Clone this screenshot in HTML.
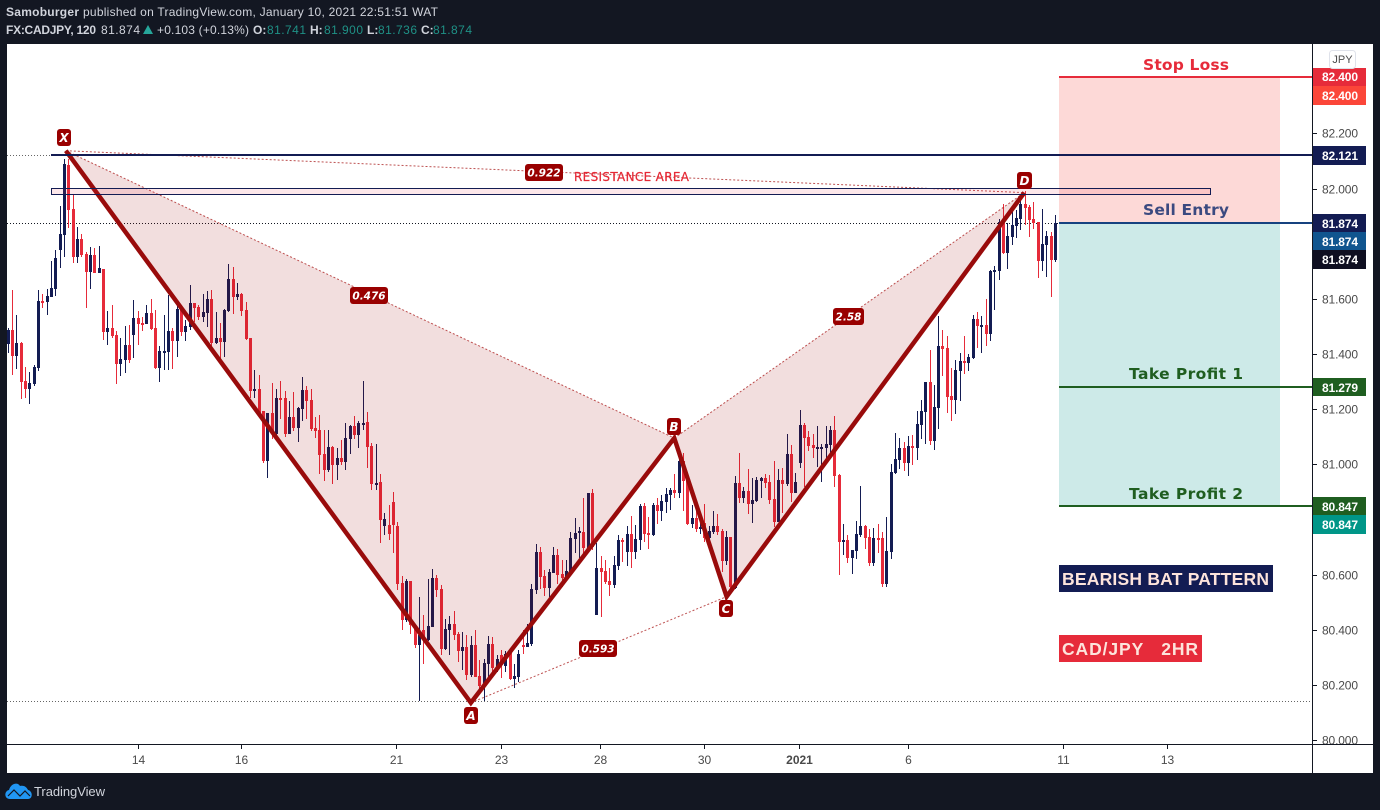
<!DOCTYPE html>
<html lang="en">
<head>
<meta charset="utf-8">
<title>CAD/JPY 2HR Bearish Bat Pattern</title>
<style>
html,body{margin:0;padding:0;background:#131722;width:1380px;height:810px;overflow:hidden}
svg{display:block}
text{font-family:"Liberation Sans",sans-serif}
.tag{fill:#fff;font-size:12px;font-weight:bold}
.ptn{fill:#fff;font-family:"DejaVu Sans",sans-serif;font-weight:bold;font-style:italic;text-anchor:middle}
.pos{font-family:"DejaVu Sans",sans-serif;font-weight:bold;font-size:15.5px;text-anchor:middle}
.hd{fill:#d1d4dc;font-size:12px}
.hb{fill:#d1d4dc;font-size:12px;font-weight:bold}
.ht{fill:#1f9186;font-size:12px}
</style>
</head>
<body>
<svg id="chart" xmlns="http://www.w3.org/2000/svg" width="1380" height="810" viewBox="0 0 1380 810">
  <rect x="0" y="0" width="1380" height="810" fill="#131722"/>
  <rect x="7" y="44" width="1366" height="729" fill="#ffffff"/>

  <g>
    <text class="hb" x="6" y="16" textLength="73" lengthAdjust="spacing">Samoburger</text>
    <text class="hd" x="83" y="16" textLength="355" lengthAdjust="spacing">published on TradingView.com, January 10, 2021 22:51:51 WAT</text>
    <text class="hb" x="6" y="34" textLength="90" lengthAdjust="spacing">FX:CADJPY, 120</text>
    <text class="hd" x="101" y="34" textLength="39">81.874</text>
    <polygon points="143,34 153,34 148,25" fill="#26a69a"/>
    <text class="hd" x="157" y="34" textLength="92">+0.103 (+0.13%)</text>
    <text class="hb" x="253" y="34">O:</text>
    <text class="ht" x="267" y="34" textLength="39">81.741</text>
    <text class="hb" x="310" y="34">H:</text>
    <text class="ht" x="324" y="34" textLength="39">81.900</text>
    <text class="hb" x="367" y="34">L:</text>
    <text class="ht" x="378" y="34" textLength="39">81.736</text>
    <text class="hb" x="421" y="34">C:</text>
    <text class="ht" x="433" y="34" textLength="39">81.874</text>
  </g>

  <g id="guides"></g>
  <g>
    <rect id="stopBox" x="1059" width="221" fill="#fdd9d7"/>
    <rect id="profitBox" x="1059" width="221" fill="#cdeae8"/>
  </g>
  <g id="candles" shape-rendering="crispEdges"></g>
  <g id="pattern"></g>
  <rect x="51.5" y="188.5" width="1159" height="6" fill="rgba(240,60,80,0.12)" stroke="#131c53" stroke-width="1"/>
  <text x="574" y="181" font-size="12" fill="#e52935" stroke="#e52935" stroke-width="0.25" textLength="115" lengthAdjust="spacing" style="font-family:'DejaVu Sans',sans-serif">RESISTANCE AREA</text>
  <g id="levels"></g>

  <g>
    <rect x="57" y="129" width="14" height="17" rx="3" fill="#990000"/>
    <text class="ptn" x="64" y="142" font-size="12">X</text>
    <rect x="464" y="707" width="14" height="17" rx="3" fill="#990000"/>
    <text class="ptn" x="471" y="720" font-size="12">A</text>
    <rect x="667" y="418" width="14" height="17" rx="3" fill="#990000"/>
    <text class="ptn" x="674" y="431" font-size="12">B</text>
    <rect x="719" y="600" width="14" height="17" rx="3" fill="#990000"/>
    <text class="ptn" x="726" y="613" font-size="12">C</text>
    <rect x="1017" y="172" width="15" height="17" rx="3" fill="#990000"/>
    <text class="ptn" x="1024.5" y="185" font-size="12">D</text>
    <rect x="525" y="164" width="38" height="17" rx="3" fill="#990000"/>
    <text class="ptn" x="544" y="176.5" font-size="10.5">0.922</text>
    <rect x="350" y="287" width="38" height="17" rx="3" fill="#990000"/>
    <text class="ptn" x="369" y="299.5" font-size="10.5">0.476</text>
    <rect x="833" y="308" width="31" height="17" rx="3" fill="#990000"/>
    <text class="ptn" x="848.5" y="320.5" font-size="10.5">2.58</text>
    <rect x="579" y="640" width="38" height="17" rx="3" fill="#990000"/>
    <text class="ptn" x="598" y="652.5" font-size="10.5">0.593</text>
  </g>

  <g>
    <text class="pos" x="1186" y="70" fill="#e62b3a" textLength="86" lengthAdjust="spacing">Stop Loss</text>
    <text class="pos" x="1186" y="215" fill="#3b4a80" textLength="86" lengthAdjust="spacing">Sell Entry</text>
    <text class="pos" x="1186" y="379" fill="#1f5e20" textLength="114" lengthAdjust="spacing">Take Profit 1</text>
    <text class="pos" x="1186" y="499" fill="#1f5e20" textLength="114" lengthAdjust="spacing">Take Profit 2</text>
  </g>

  <rect x="1059" y="565" width="214" height="27" fill="#131c53"/>
  <text x="1062" y="585" font-size="17.5" font-weight="bold" fill="#fde4dc" textLength="207" lengthAdjust="spacing">BEARISH BAT PATTERN</text>
  <rect x="1059" y="635" width="143" height="27" fill="#e62b3a"/>
  <text x="1062" y="655" font-size="17.5" font-weight="bold" fill="#fde4dc" xml:space="preserve" style="white-space:pre" textLength="136" lengthAdjust="spacing">CAD/JPY   2HR</text>

  <g id="priceAxis"></g>
  <g id="timeAxis"></g>

  <g>
    <rect x="1313" y="68" width="53" height="18" fill="#e62b3a"/>
    <text class="tag" x="1322" y="81" textLength="36">82.400</text>
    <rect x="1313" y="86" width="53" height="19" fill="#fb4639"/>
    <text class="tag" x="1322" y="100" textLength="36">82.400</text>
    <rect x="1313" y="146" width="53" height="19" fill="#131c53"/>
    <text class="tag" x="1322" y="160" textLength="36">82.121</text>
    <rect x="1313" y="214" width="53" height="18" fill="#131c53"/>
    <text class="tag" x="1322" y="228" textLength="36">81.874</text>
    <rect x="1313" y="232" width="53" height="18" fill="#10558f"/>
    <text class="tag" x="1322" y="246" textLength="36">81.874</text>
    <rect x="1313" y="250" width="53" height="19" fill="#0f0f21"/>
    <text class="tag" x="1322" y="264" textLength="36">81.874</text>
    <rect x="1313" y="378" width="53" height="18" fill="#1f5e20"/>
    <text class="tag" x="1322" y="392" textLength="36">81.279</text>
    <rect x="1313" y="497" width="53" height="18" fill="#1f5e20"/>
    <text class="tag" x="1322" y="511" textLength="36">80.847</text>
    <rect x="1313" y="515" width="53" height="19" fill="#009688"/>
    <text class="tag" x="1322" y="529" textLength="36">80.847</text>
  </g>

  <rect x="1329.5" y="50.5" width="26" height="18" rx="3" fill="#ffffff" stroke="#dfe2ea"/>
  <text x="1342.5" y="63" font-size="11" fill="#4a4a4a" text-anchor="middle">JPY</text>

  <g>
    <path d="M10 799 C4 799 4 791 9 790 C11 783 18 782 20 786 C25 785 27 788 28 790 C33 791 33 799 28 799 Z" fill="#2196f3"/>
    <path d="M8 796 L14 790 L20 796 L25 791 L30 796" fill="none" stroke="#131722" stroke-width="1.2"/>
    <text x="34" y="796" font-size="13" fill="#d1d4dc" textLength="71" lengthAdjust="spacing">TradingView</text>
  </g>
</svg>

<script>
const highs = [
81.494,81.632,81.541,81.444,81.353,81.335,81.360,81.632,81.617,81.636,
81.737,81.777,81.936,82.107,82.107,81.976,81.860,81.835,81.770,81.788,
81.784,81.792,81.708,81.556,81.578,81.483,81.458,81.501,81.505,81.596,
81.556,81.534,81.578,81.599,81.559,81.429,81.541,81.614,81.494,81.578,
81.578,81.523,81.650,81.585,81.578,81.617,81.628,81.632,81.552,81.512,
81.563,81.726,81.715,81.657,81.621,81.588,81.458,81.342,81.324,81.193,
81.186,81.295,81.273,81.302,81.266,81.229,81.262,81.208,81.316,81.284,
81.273,81.171,81.179,81.124,81.124,81.066,81.059,81.088,81.150,81.142,
81.175,81.157,81.302,81.190,81.077,81.073,80.965,80.823,80.852,80.899,
80.790,80.595,80.584,80.577,80.417,80.519,80.453,80.584,80.620,80.598,
80.562,80.439,80.450,80.468,80.392,80.392,80.381,80.377,80.399,80.290,
80.294,80.377,80.373,80.308,80.326,80.323,80.315,80.276,80.326,80.399,
80.421,80.566,80.711,80.700,80.617,80.620,80.700,80.693,80.653,80.653,
80.754,80.805,80.772,80.878,80.896,80.910,80.714,80.667,80.653,80.624,
80.667,80.743,80.733,80.776,80.812,80.780,80.856,80.859,80.809,80.859,
80.878,80.888,80.914,80.914,80.965,81.023,81.041,80.943,80.852,80.834,
80.805,80.856,80.776,80.830,80.820,80.765,80.758,80.736,80.957,81.041,
80.918,80.983,80.950,80.954,80.954,80.965,80.961,81.012,80.983,80.986,
81.110,81.070,80.968,81.197,81.150,81.120,81.110,81.139,81.073,81.139,
81.139,81.175,80.965,80.783,80.743,80.689,80.794,80.921,80.780,80.765,
80.769,80.783,80.754,80.809,81.001,81.113,81.095,81.081,81.102,81.106,
81.193,81.233,81.298,81.414,81.287,81.538,81.487,81.465,81.349,81.378,
81.403,81.465,81.400,81.541,81.552,81.538,81.599,81.704,81.719,81.889,
81.944,81.875,81.922,81.922,81.962,81.991,81.940,81.951,81.879,81.926,
81.846,81.842,81.904];

const lows = [
81.404,81.324,81.346,81.236,81.240,81.218,81.284,81.338,81.567,81.541,
81.607,81.610,81.712,81.752,81.857,81.730,81.730,81.752,81.567,81.636,
81.693,81.693,81.451,81.433,81.458,81.291,81.320,81.331,81.367,81.385,
81.433,81.483,81.509,81.487,81.346,81.298,81.342,81.342,81.346,81.389,
81.465,81.447,81.487,81.516,81.523,81.516,81.498,81.422,81.436,81.378,
81.389,81.552,81.545,81.596,81.538,81.451,81.240,81.240,81.179,81.005,
80.950,81.092,81.106,81.164,81.099,81.110,81.120,81.081,81.157,81.164,
81.120,81.095,80.965,80.939,80.972,80.928,80.943,80.997,80.979,81.037,
81.092,81.059,81.124,80.986,80.907,80.907,80.714,80.743,80.725,80.678,
80.544,80.399,80.428,80.384,80.334,80.141,80.276,80.359,80.410,80.519,
80.308,80.326,80.308,80.363,80.283,80.254,80.218,80.228,80.228,80.181,
80.141,80.218,80.243,80.247,80.225,80.247,80.218,80.189,80.210,80.312,
80.337,80.341,80.529,80.548,80.522,80.519,80.606,80.566,80.555,80.580,
80.606,80.678,80.660,80.671,80.689,80.689,80.453,80.446,80.566,80.522,
80.551,80.617,80.646,80.631,80.624,80.656,80.689,80.718,80.693,80.740,
80.783,80.794,80.823,80.834,80.878,80.878,80.830,80.780,80.769,80.754,
80.747,80.718,80.718,80.747,80.743,80.609,80.635,80.544,80.548,80.859,
80.859,80.820,80.787,80.863,80.878,80.914,80.856,80.772,80.791,80.823,
80.921,80.863,80.896,80.986,80.918,81.048,81.023,80.990,80.936,81.023,
81.034,80.918,80.598,80.671,80.642,80.602,80.656,80.736,80.693,80.631,
80.631,80.678,80.555,80.555,80.656,80.965,80.983,80.976,80.957,80.997,
81.015,81.092,81.073,81.070,81.052,81.128,81.320,81.186,81.157,81.182,
81.229,81.327,81.338,81.382,81.422,81.403,81.429,81.447,81.559,81.668,
81.763,81.708,81.795,81.821,81.850,81.868,81.824,81.853,81.675,81.701,
81.679,81.607,81.733];

const opens = [
81.436,81.487,81.393,81.440,81.302,81.273,81.291,81.349,81.592,81.589,
81.607,81.636,81.777,81.832,82.085,81.926,81.752,81.817,81.763,81.697,
81.759,81.693,81.708,81.480,81.494,81.469,81.364,81.378,81.433,81.469,
81.530,81.512,81.509,81.549,81.494,81.349,81.407,81.407,81.483,81.447,
81.563,81.480,81.498,81.585,81.570,81.534,81.549,81.599,81.440,81.458,
81.444,81.556,81.672,81.607,81.617,81.559,81.458,81.269,81.273,81.193,
81.012,81.186,81.110,81.240,81.240,81.110,81.171,81.131,81.200,81.269,
81.233,81.131,81.124,81.037,80.979,81.063,80.997,81.023,81.008,81.092,
81.139,81.106,81.146,81.153,81.066,80.925,80.936,80.776,80.780,80.863,
80.776,80.569,80.435,80.577,80.406,80.345,80.399,80.363,80.410,80.587,
80.548,80.330,80.399,80.421,80.384,80.323,80.337,80.236,80.345,80.232,
80.196,80.276,80.348,80.261,80.308,80.268,80.315,80.221,80.228,80.345,
80.337,80.348,80.544,80.682,80.595,80.551,80.606,80.671,80.602,80.587,
80.606,80.729,80.751,80.754,80.696,80.896,80.453,80.624,80.613,80.577,
80.562,80.631,80.725,80.682,80.747,80.682,80.725,80.849,80.751,80.743,
80.852,80.830,80.863,80.888,80.907,80.896,81.012,80.943,80.783,80.805,
80.765,80.787,80.733,80.754,80.776,80.758,80.649,80.736,80.551,80.932,
80.878,80.903,80.856,80.867,80.939,80.950,80.936,80.874,80.791,80.943,
80.928,81.037,80.896,81.005,81.142,81.099,81.070,81.059,81.059,81.059,
81.070,81.124,80.961,80.718,80.725,80.660,80.685,80.743,80.776,80.736,
80.642,80.733,80.733,80.566,80.682,80.968,81.015,81.059,81.005,81.066,
81.059,81.142,81.190,81.298,81.084,81.204,81.429,81.422,81.248,81.233,
81.338,81.374,81.367,81.385,81.527,81.501,81.505,81.472,81.697,81.701,
81.875,81.766,81.824,81.864,81.889,81.944,81.933,81.889,81.879,81.737,
81.795,81.828,81.741];

const closes = [
81.487,81.393,81.440,81.298,81.273,81.295,81.353,81.592,81.589,81.610,
81.639,81.748,81.835,82.089,81.922,81.752,81.817,81.759,81.697,81.759,
81.693,81.712,81.480,81.494,81.465,81.364,81.382,81.433,81.378,81.530,
81.509,81.509,81.549,81.491,81.349,81.411,81.411,81.483,81.447,81.563,
81.480,81.501,81.585,81.567,81.534,81.552,81.599,81.440,81.458,81.444,
81.559,81.672,81.607,81.617,81.556,81.454,81.266,81.273,81.186,81.012,
81.186,81.110,81.240,81.237,81.110,81.171,81.131,81.204,81.269,81.229,
81.128,81.120,81.034,80.979,81.063,80.997,81.023,81.008,81.095,81.139,
81.106,81.150,81.150,81.063,80.928,80.932,80.798,80.801,80.747,80.780,
80.566,80.435,80.577,80.417,80.345,80.381,80.373,80.413,80.587,80.544,
80.330,80.403,80.421,80.381,80.323,80.337,80.236,80.345,80.228,80.196,
80.279,80.348,80.261,80.294,80.272,80.312,80.221,80.232,80.312,80.337,
80.352,80.548,80.682,80.591,80.551,80.609,80.671,80.598,80.587,80.613,
80.733,80.751,80.758,80.696,80.896,80.700,80.624,80.609,80.573,80.562,
80.635,80.725,80.722,80.747,80.682,80.729,80.849,80.747,80.743,80.852,
80.830,80.867,80.892,80.907,80.896,81.012,80.939,80.783,80.805,80.765,
80.772,80.733,80.758,80.776,80.754,80.649,80.736,80.555,80.932,80.878,
80.903,80.856,80.870,80.943,80.950,80.932,80.870,80.791,80.943,80.928,
81.037,80.896,80.936,81.142,81.095,81.066,81.059,81.063,81.063,81.073,
81.124,80.957,80.718,80.725,80.660,80.689,80.747,80.776,80.733,80.642,
80.733,80.729,80.566,80.685,80.972,81.019,81.059,81.005,81.066,81.059,
81.146,81.193,81.298,81.084,81.208,81.429,81.418,81.244,81.233,81.342,
81.374,81.367,81.389,81.527,81.501,81.505,81.472,81.701,81.704,81.879,
81.766,81.828,81.868,81.893,81.944,81.930,81.886,81.875,81.737,81.799,
81.828,81.741,81.875];

const patternNames = ['X', 'A', 'B', 'C', 'D'];
const patternBars = [13.3, 106.9, 153.9, 166, 234.8];
const patternPrices = [82.137, 80.135, 81.095, 80.520, 81.985];

const priceTicks = [82.4, 82.2, 82.0, 81.8, 81.6, 81.4, 81.2, 81.0, 80.8, 80.6, 80.4, 80.2, 80.0];
const priceTickLabels = ['82.400', '82.200', '82.000', '81.800', '81.600', '81.400', '81.200', '81.000', '80.800', '80.600', '80.400', '80.200', '80.000'];
const timeTickBars = [30.1, 54, 89.8, 113.9, 136.9, 161, 182.8, 208, 243.8, 267.8];
const timeTickLabels = ['14', '16', '21', '23', '28', '30', '2021', '6', '11', '13'];

const stopPrice = 82.405;
const highLevelPrice = 82.121;
const entryPrice = 81.874;
const tp1Price = 81.279;
const tp2Price = 80.847;
const lowLevelPrice = 80.142;

const NS = 'http://www.w3.org/2000/svg';
const BAR_STEP = 1047.2 / 242;
const PX_PER_UNIT = 275.75;
const NAVY = '#131c53';
const RED = '#e62b3a';
const DARKRED = '#990b0b';

function barX(i) { return 8.3 + i * BAR_STEP; }
function priceY(p) { return 740 - (p - 80) * PX_PER_UNIT; }

function shape(tag, parent, attrs) {
  const node = document.createElementNS(NS, tag);
  for (const k in attrs) node.setAttribute(k, attrs[k]);
  parent.appendChild(node);
  return node;
}

const candleLayer = document.getElementById('candles');
opens.forEach(function (o, i) {
  const c = closes[i];
  const color = c >= o ? NAVY : RED;
  const px = Math.floor(barX(i));
  const top = Math.round(priceY(Math.max(o, c)));
  const bottom = Math.round(priceY(Math.min(o, c)));
  const wickTop = Math.round(priceY(highs[i]));
  const wickBottom = Math.round(priceY(lows[i]));
  const wick = shape('rect', candleLayer, { x: px, y: wickTop, width: 1, height: Math.max(1, wickBottom - wickTop), fill: color });
  
  
  const body = shape('rect', candleLayer, { x: px - 1, y: top, width: 3, height: Math.max(2, bottom - top), fill: color });
  
  
});

const px = patternBars.map(barX);
const py = patternPrices.map(priceY);
const patternLayer = document.getElementById('pattern');

function tri(a, b, c) {
  return px[a] + ',' + py[a] + ' ' + px[b] + ',' + py[b] + ' ' + px[c] + ',' + py[c];
}
const fillLeft = shape('polygon', patternLayer, { points: tri(0, 1, 2), fill: 'rgba(153,0,0,0.13)' });


const fillRight = shape('polygon', patternLayer, { points: tri(2, 3, 4), fill: 'rgba(153,0,0,0.13)' });



[[0, 2], [2, 4], [1, 3], [0, 4]].forEach(function (p) {
  const dotted = shape('line', patternLayer, { x1: px[p[0]], y1: py[p[0]], x2: px[p[1]], y2: py[p[1]], stroke: '#a81818', 'stroke-width': 1, 'stroke-dasharray': '2 2', opacity: 0.75 });
  
  
});

const legPoints = px.map(function (x, i) { return x + ',' + py[i]; }).join(' ');
const legs = shape('polyline', patternLayer, { points: legPoints, fill: 'none', stroke: DARKRED, 'stroke-width': 4.5, 'stroke-linejoin': 'miter', 'stroke-miterlimit': 8 });



const guideLayer = document.getElementById('guides');
const guideHigh = shape('line', guideLayer, { x1: 7, x2: 51, y1: Math.round(priceY(highLevelPrice)) + 0.5, y2: Math.round(priceY(highLevelPrice)) + 0.5, stroke: '#666', 'stroke-dasharray': '1 2' });


const guideLast = shape('line', guideLayer, { x1: 7, x2: 1059, y1: Math.round(priceY(entryPrice)) + 0.5, y2: Math.round(priceY(entryPrice)) + 0.5, stroke: '#131722', 'stroke-dasharray': '1 2' });


const guideLow = shape('line', guideLayer, { x1: 7, x2: 1312, y1: Math.round(priceY(lowLevelPrice)) + 0.5, y2: Math.round(priceY(lowLevelPrice)) + 0.5, stroke: '#666', 'stroke-dasharray': '1 2' });



const stopBox = document.getElementById('stopBox');
stopBox.setAttribute('y', priceY(stopPrice));
stopBox.setAttribute('height', priceY(entryPrice) - priceY(stopPrice));
const profitBox = document.getElementById('profitBox');
profitBox.setAttribute('y', priceY(entryPrice));
profitBox.setAttribute('height', priceY(tp2Price) - priceY(entryPrice));

const levelLayer = document.getElementById('levels');
function level(price, x1, color) {
  const y = Math.round(priceY(price));
  return shape('line', levelLayer, { x1: x1, x2: 1312, y1: y, y2: y, stroke: color, 'stroke-width': 2, 'shape-rendering': 'crispEdges' });
}
const stopLine = level(stopPrice, 1059, RED);


const highLine = level(highLevelPrice, 51, NAVY);


const entryLine = level(entryPrice, 1059, '#16427f');


const tp1Line = level(tp1Price, 1059, '#1f5e20');


const tp2Line = level(tp2Price, 1059, '#1f5e20');



const priceAxis = document.getElementById('priceAxis');
const priceLine = shape('line', priceAxis, { x1: 1312.5, x2: 1312.5, y1: 44, y2: 773, stroke: '#131722', 'stroke-width': 1 });


priceTicks.forEach(function (p, i) {
  const y = Math.round(priceY(p)) + 0.5;
  const tick = shape('line', priceAxis, { x1: 1313, x2: 1317, y1: y, y2: y, stroke: '#131722' });
  
  
  const label = shape('text', priceAxis, { x: 1322, y: y + 4, 'font-size': 12, fill: '#4a4a4a', textLength: 36 });
  
  
  label.textContent = priceTickLabels[i];
});

const timeAxis = document.getElementById('timeAxis');
const timeLine = shape('line', timeAxis, { x1: 7, x2: 1373, y1: 744.5, y2: 744.5, stroke: '#131722', 'stroke-width': 1 });


timeTickBars.forEach(function (b, i) {
  const x = Math.floor(barX(b)) + 0.5;
  const tick = shape('line', timeAxis, { x1: x, x2: x, y1: 745, y2: 749, stroke: '#131722' });
  
  
  const label = shape('text', timeAxis, { x: x, y: 764, 'font-size': 12, fill: '#4a4a4a', 'text-anchor': 'middle' });
  
  
  if (timeTickLabels[i] === '2021') label.setAttribute('font-weight', 'bold');
  label.textContent = timeTickLabels[i];
});
</script>
</body>
</html>
